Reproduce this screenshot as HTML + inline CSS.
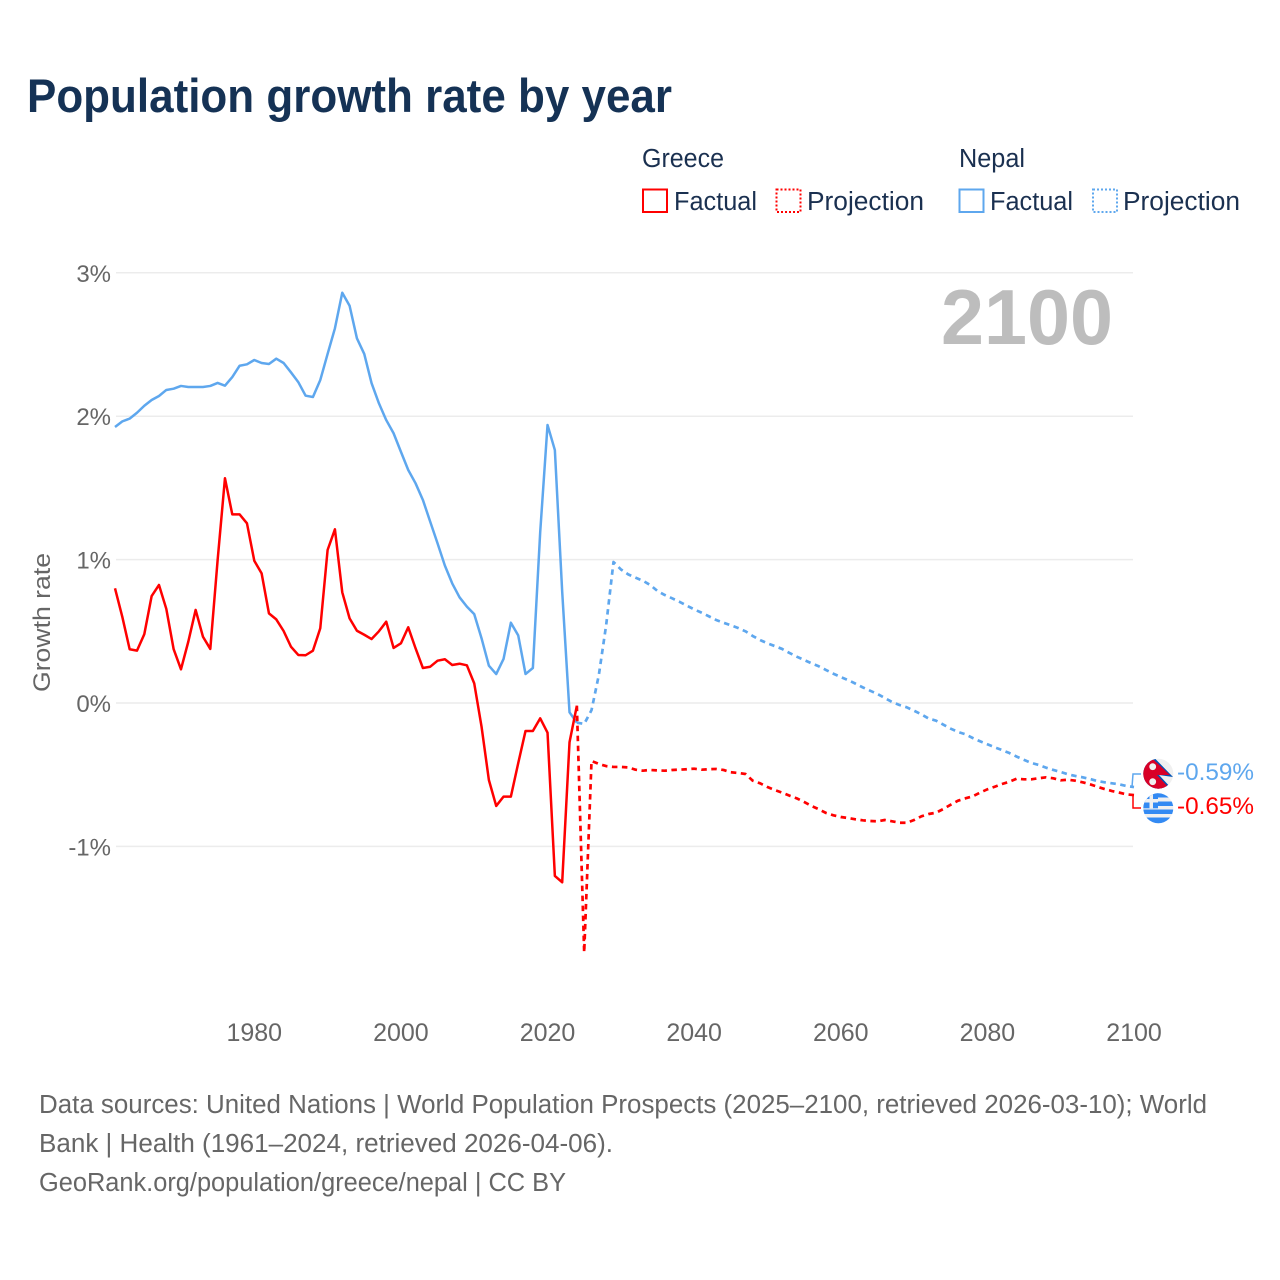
<!DOCTYPE html>
<html lang="en">
<head>
<meta charset="utf-8">
<title>Population growth rate by year</title>
<style>
html,body{margin:0;padding:0;background:#fff;}
svg{display:block;font-family:"Liberation Sans",sans-serif;}
</style>
</head>
<body>
<svg id="chart" xmlns="http://www.w3.org/2000/svg" width="1280" height="1280" viewBox="0 0 1280 1280">
  <rect x="0" y="0" width="1280" height="1280" fill="#ffffff"/>
  <text x="27" y="112" font-size="47" font-weight="700" fill="#153255" textLength="645" lengthAdjust="spacingAndGlyphs">Population growth rate by year</text>

  <g font-size="25.5" fill="#1a3050">
    <text x="642" y="167" textLength="82" lengthAdjust="spacingAndGlyphs">Greece</text>
    <text x="959" y="167" textLength="66" lengthAdjust="spacingAndGlyphs">Nepal</text>
    <rect x="643" y="189.5" width="24" height="22.5" fill="none" stroke="#ff0000" stroke-width="2"/>
    <text x="674" y="210" textLength="83" lengthAdjust="spacingAndGlyphs">Factual</text>
    <rect x="776.5" y="189.5" width="24" height="22.5" fill="none" stroke="#ff0000" stroke-width="2" stroke-dasharray="2 2"/>
    <text x="807" y="210" textLength="117" lengthAdjust="spacingAndGlyphs">Projection</text>
    <rect x="959.5" y="189.5" width="24" height="22.5" fill="none" stroke="#5ea7ee" stroke-width="2"/>
    <text x="990" y="210" textLength="83" lengthAdjust="spacingAndGlyphs">Factual</text>
    <rect x="1093" y="189.5" width="24" height="22.5" fill="none" stroke="#5ea7ee" stroke-width="2" stroke-dasharray="2 2"/>
    <text x="1123" y="210" textLength="117" lengthAdjust="spacingAndGlyphs">Projection</text>
  </g>

  <g id="grid"></g>
  <g id="yticks"></g>
  <g id="xticks"></g>

  <text transform="translate(50,692) rotate(-90)" font-size="24" fill="#666666" textLength="139" lengthAdjust="spacingAndGlyphs">Growth rate</text>
  <text x="941" y="344" font-size="78" font-weight="700" fill="#bdbdbd" textLength="172" lengthAdjust="spacingAndGlyphs">2100</text>

  <g id="series"></g>

  <path d="M1132 787 L1133 774 L1141 774" fill="none" stroke="#5ea7ee" stroke-width="1.5"/>
  <path d="M1133 795 L1133 808 L1141 808" fill="none" stroke="#ff0000" stroke-width="1.5"/>

  <defs>
    <clipPath id="clip-nepal"><circle cx="1158.3" cy="773.7" r="15"/></clipPath>
    <clipPath id="clip-greece"><circle cx="1158.3" cy="808.3" r="15"/></clipPath>
  </defs>
  <g clip-path="url(#clip-nepal)">
    <rect x="1143" y="758" width="31" height="31" fill="#f0f0f0"/>
    <polygon points="1142,757 1155,758.5 1173,777 1159,775 1173,790 1142,790" fill="#0052b4"/>
    <polygon points="1142,757 1154,760 1170,775 1157,775 1170,789 1142,790" fill="#d80027"/>
    <circle cx="1152.7" cy="766.7" r="3.4" fill="#f0f0f0"/>
    <circle cx="1152.7" cy="781.7" r="3.4" fill="#f0f0f0"/>
  </g>
  <g clip-path="url(#clip-greece)">
    <rect x="1143" y="793" width="31" height="31" fill="#f0f0f0"/>
    <rect x="1143" y="793" width="31" height="4.5" fill="#338af3"/>
    <rect x="1143" y="801.5" width="31" height="4.5" fill="#338af3"/>
    <rect x="1143" y="809.5" width="31" height="4.5" fill="#338af3"/>
    <rect x="1143" y="817.5" width="31" height="6" fill="#338af3"/>
    <rect x="1143" y="793" width="15" height="15.3" fill="#338af3"/>
    <rect x="1149.5" y="793" width="3.5" height="15.3" fill="#f0f0f0"/>
    <rect x="1143" y="799" width="15" height="3.5" fill="#f0f0f0"/>
  </g>

  <text x="1177" y="780" font-size="24" fill="#5ea7ee" textLength="77" lengthAdjust="spacingAndGlyphs">-0.59%</text>
  <text x="1177" y="814" font-size="24" fill="#ff0000" textLength="77" lengthAdjust="spacingAndGlyphs">-0.65%</text>

  <g font-size="25.5" fill="#666666">
    <text x="39" y="1113" textLength="1168" lengthAdjust="spacingAndGlyphs">Data sources: United Nations | World Population Prospects (2025–2100, retrieved 2026-03-10); World</text>
    <text x="39" y="1152" textLength="574" lengthAdjust="spacingAndGlyphs">Bank | Health (1961–2024, retrieved 2026-04-06).</text>
    <text x="39" y="1191" textLength="527" lengthAdjust="spacingAndGlyphs">GeoRank.org/population/greece/nepal | CC BY</text>
  </g>
</svg>
<script>
const xTickYears = [1980, 2000, 2020, 2040, 2060, 2080, 2100];
const yTickValues = [3, 2, 1, 0, -1];
const yTickLabels = ["3%", "2%", "1%", "0%", "-1%"];
const factualStartYear = 1961;
const projectionStartYear = 2024;

const greeceFactual = [
  0.80,0.60,0.375,0.365,0.48,0.746,0.823,0.656,0.375,0.235,
  0.428,0.649,0.462,0.377,0.997,1.567,1.315,1.315,1.253,0.992,
  0.904,0.625,0.583,0.502,0.393,0.335,0.333,0.365,0.521,1.067,
  1.211,0.772,0.59,0.504,0.476,0.446,0.50,0.567,0.384,0.416,
  0.528,0.381,0.244,0.253,0.295,0.305,0.265,0.274,0.263,0.137,
  -0.165,-0.537,-0.718,-0.653,-0.653,-0.42,-0.195,-0.195,-0.107,-0.207,
  -1.206,-1.25,-0.274,-0.019
];
const nepalFactual = [
  1.925,1.964,1.983,2.024,2.073,2.113,2.141,2.183,2.192,2.211,
  2.204,2.204,2.204,2.211,2.232,2.213,2.273,2.352,2.362,2.392,
  2.371,2.364,2.401,2.371,2.306,2.238,2.143,2.134,2.252,2.434,
  2.613,2.861,2.77,2.543,2.434,2.23,2.09,1.973,1.881,1.752,
  1.625,1.532,1.416,1.264,1.113,0.958,0.834,0.737,0.672,0.62,
  0.451,0.26,0.202,0.307,0.56,0.472,0.202,0.244,1.19,1.939,
  1.764,0.776,-0.065,-0.137
];
const greeceProjection = [
  -0.019,-1.74,-0.404,-0.425,-0.44,-0.446,-0.446,-0.449,-0.465,-0.472,
  -0.467,-0.47,-0.472,-0.467,-0.465,-0.462,-0.458,-0.465,-0.462,-0.46,
  -0.467,-0.483,-0.488,-0.495,-0.542,-0.56,-0.586,-0.607,-0.625,-0.646,
  -0.665,-0.69,-0.718,-0.741,-0.767,-0.783,-0.795,-0.802,-0.811,-0.818,
  -0.823,-0.825,-0.816,-0.825,-0.835,-0.835,-0.816,-0.79,-0.774,-0.765,
  -0.739,-0.709,-0.681,-0.665,-0.651,-0.625,-0.602,-0.584,-0.565,-0.549,
  -0.528,-0.532,-0.532,-0.525,-0.518,-0.525,-0.539,-0.535,-0.542,-0.553,
  -0.567,-0.584,-0.60,-0.614,-0.625,-0.637,-0.642
];
const nepalProjection = [
  -0.137,-0.146,-0.05,0.195,0.544,0.983,0.932,0.897,0.874,0.853,
  0.823,0.781,0.753,0.73,0.706,0.679,0.653,0.63,0.605,0.579,
  0.56,0.542,0.523,0.50,0.467,0.439,0.416,0.397,0.377,0.349,
  0.323,0.30,0.277,0.256,0.23,0.204,0.181,0.16,0.135,0.109,
  0.086,0.063,0.035,0.007,-0.014,-0.03,-0.054,-0.079,-0.109,-0.123,
  -0.151,-0.179,-0.202,-0.218,-0.244,-0.267,-0.288,-0.309,-0.328,-0.349,
  -0.374,-0.397,-0.418,-0.432,-0.451,-0.467,-0.481,-0.497,-0.509,-0.518,
  -0.53,-0.544,-0.553,-0.56,-0.567,-0.579,-0.586
];

const NS = 'http://www.w3.org/2000/svg';
function xScale(year) { return 115 + (year - 1961) * (1134 - 115) / (2100 - 1961); }
function yScale(value) { return 703 - value * 143.4; }
function make(tag, attrs, parent) {
  const el = document.createElementNS(NS, tag);
  for (const k in attrs) el.setAttribute(k, attrs[k]);
  parent.appendChild(el);
  return el;
}
function linePath(values, startYear) {
  return values.map(function (v, i) {
    return (i ? 'L' : 'M') + xScale(startYear + i).toFixed(2) + ' ' + yScale(v).toFixed(2);
  }).join(' ');
}

const gridGroup = document.getElementById('grid');
const yGroup = document.getElementById('yticks');
const xGroup = document.getElementById('xticks');
const seriesGroup = document.getElementById('series');

yTickValues.forEach(function (v, i) {
  const line = make('line', { x1: 116, x2: 1133, y1: yScale(v), y2: yScale(v), stroke: '#ececec', 'stroke-width': 1.5 }, gridGroup);
  
  
  const label = make('text', { x: 111, y: yScale(v) + 9, 'text-anchor': 'end', 'font-size': 24, fill: '#666666' }, yGroup);
  
  
  label.textContent = yTickLabels[i];
});

xTickYears.forEach(function (year) {
  const label = make('text', { x: xScale(year), y: 1041, 'text-anchor': 'middle', 'font-size': 25, fill: '#666666' }, xGroup);
  
  
  label.textContent = String(year);
});

const nepalProjectionLine = make('path', { d: linePath(nepalProjection, projectionStartYear), fill: 'none', stroke: '#5ea7ee', 'stroke-width': 2.7, 'stroke-dasharray': '5.5 4.5', 'stroke-linejoin': 'round' }, seriesGroup);



const nepalFactualLine = make('path', { d: linePath(nepalFactual, factualStartYear), fill: 'none', stroke: '#5ea7ee', 'stroke-width': 2.5, 'stroke-linejoin': 'round' }, seriesGroup);



const greeceProjectionLine = make('path', { d: linePath(greeceProjection, projectionStartYear), fill: 'none', stroke: '#ff0000', 'stroke-width': 2.7, 'stroke-dasharray': '5.5 4.5', 'stroke-linejoin': 'round' }, seriesGroup);



const greeceFactualLine = make('path', { d: linePath(greeceFactual, factualStartYear), fill: 'none', stroke: '#ff0000', 'stroke-width': 2.5, 'stroke-linejoin': 'round' }, seriesGroup);


</script>
</body>
</html>
